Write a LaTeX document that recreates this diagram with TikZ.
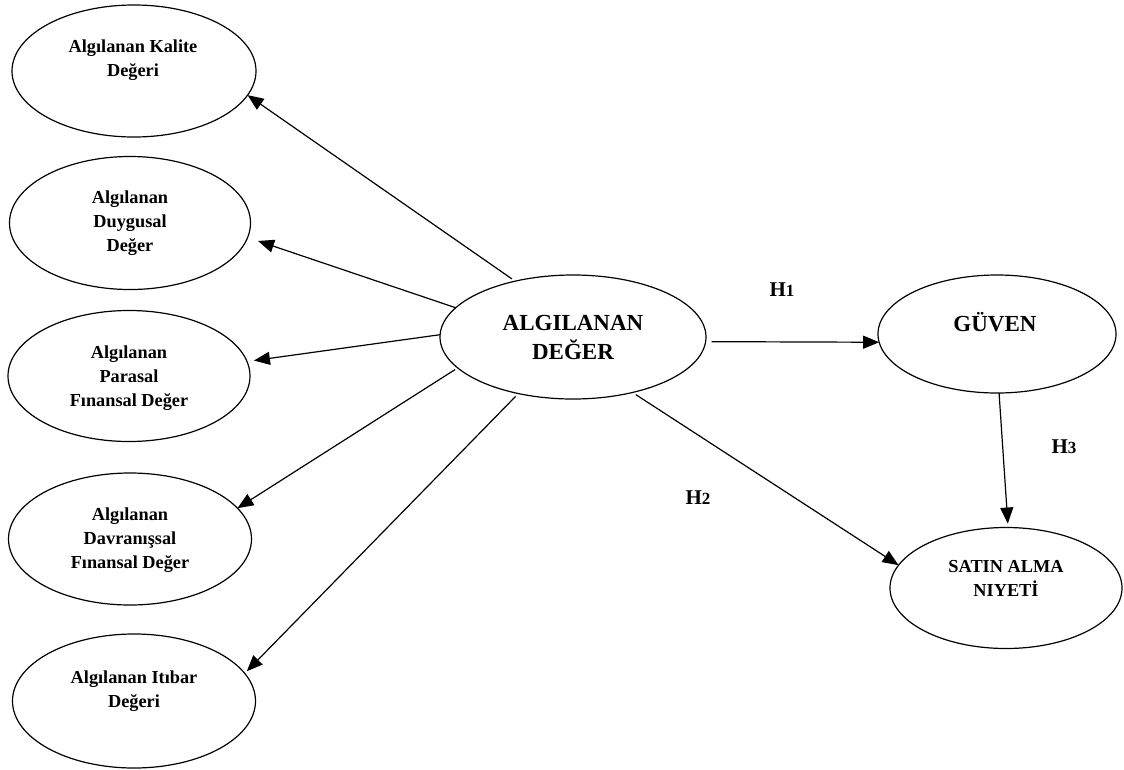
\documentclass[tikz,border=0pt]{standalone}
\usepackage{fontspec}
\setmainfont{Liberation Serif}
\usetikzlibrary{arrows.meta,shapes.geometric}
\tikzset{
  oval/.style={draw, ellipse, line width=1.2pt, inner sep=0pt, outer sep=0pt},
  smalltxt/.style={align=center, font=\bfseries\fontsize{18.3}{24}\selectfont, inner sep=0pt},
  bigtxt/.style={align=center, font=\bfseries\fontsize{23}{29}\selectfont, inner sep=0pt},
  hlab/.style={font=\bfseries\fontsize{21}{24}\selectfont, inner sep=0pt},
  arr/.style={line width=1.2pt, -{Triangle[length=16pt,width=13pt]}}
}
\newcommand{\hdig}[1]{{\fontsize{17}{20}\selectfont #1}}
\begin{document}
\begin{tikzpicture}[x=1pt,y=-1pt]
\useasboundingbox (0,0) rectangle (1124,769);
% left ellipses
\node[oval, minimum width=244pt, minimum height=132pt] (e1) at (134,71) {};
\node[oval, minimum width=241pt, minimum height=133pt] (e2) at (130,223) {};
\node[oval, minimum width=242pt, minimum height=131pt] (e3) at (129,376) {};
\node[oval, minimum width=243pt, minimum height=132pt] (e4) at (130,539) {};
\node[oval, minimum width=243pt, minimum height=134pt] (e5) at (134,701) {};
\node[smalltxt] (t1) at (133,60) {Algılanan Kalite\\Değeri};
\node[smalltxt] (t2) at (130,223) {Algılanan\\Duygusal\\Değer};
\node[smalltxt] (t3) at (129,378) {Algılanan\\Parasal\\Fınansal Değer};
\node[smalltxt] (t4) at (130,540) {Algılanan\\Davranışsal\\Fınansal Değer};
\node[smalltxt] (t5) at (134,691) {Algılanan Itıbar\\Değeri};
% center
\node[oval, minimum width=266pt, minimum height=124pt] (c) at (573,337) {};
\node[bigtxt] (ct) at (573,337) {ALGILANAN\\DEĞER};
% right
\node[oval, minimum width=238pt, minimum height=118pt] (g) at (997,334) {};
\node[bigtxt] (gt) at (995,322) {GÜVEN};
\node[oval, minimum width=232pt, minimum height=121pt] (s) at (1006,588) {};
\node[smalltxt] (st) at (1006,578) {SATIN ALMA\\NIYETİ};
% labels
\node[hlab] (h1) at (782,290) {H\hdig{1}};
\node[hlab] (h2) at (698,498) {H\hdig{2}};
\node[hlab] (h3) at (1064,447) {H\hdig{3}};
% arrows
\draw[arr, shorten <=4pt] (c.136) -- (e1.-12);
\draw[arr, shorten >=11pt] (c.166) -- (e2.-7);
\draw[arr, shorten >=7pt] (c.179) -- (e3.7);
\draw[arr, shorten <=3pt] (c.195) -- (e4.16);
\draw[arr, shorten <=4pt, shorten >=3pt] (c.226) -- (e5.14);
\draw[arr, shorten <=6pt] (c.-2) -- (g.184);
\draw[arr, shorten <=4pt] (c.-43) -- (s.168);
\draw[arr, shorten >=4pt] (g.-88) -- (s.88);
\end{tikzpicture}
\end{document}
